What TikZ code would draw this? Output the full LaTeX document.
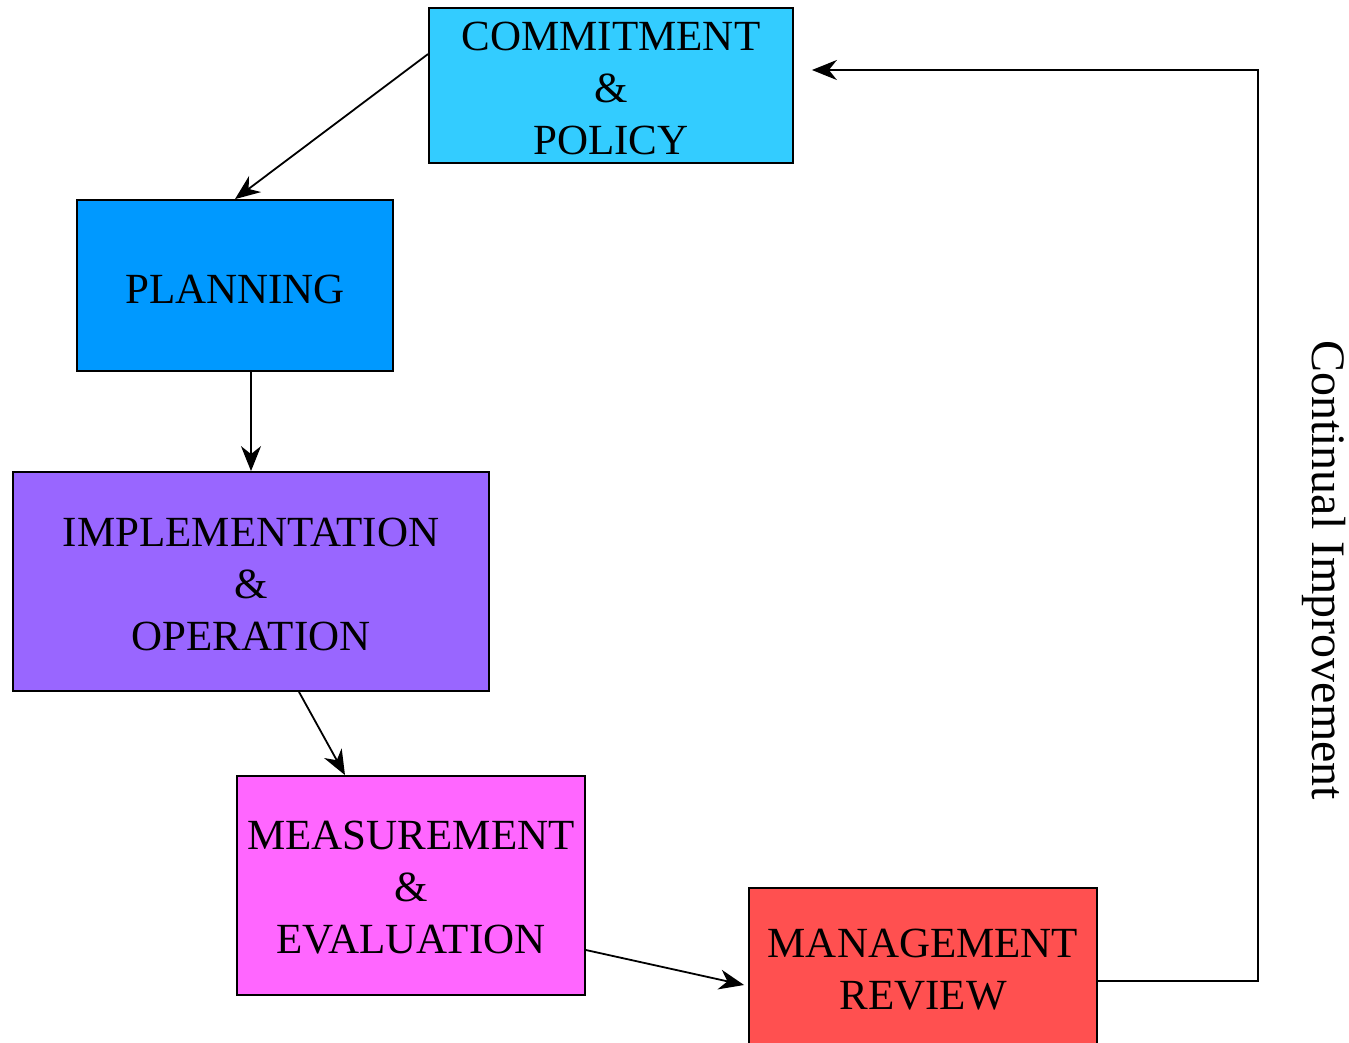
\documentclass[tikz,border=0pt]{standalone}
\usepackage{fontspec}
\setmainfont{Liberation Serif}
\usetikzlibrary{arrows.meta}
\definecolor{cCommit}{HTML}{33CCFF}
\definecolor{cPlan}{HTML}{0099FF}
\definecolor{cImpl}{HTML}{9966FF}
\definecolor{cMeas}{HTML}{FF66FF}
\definecolor{cMgmt}{HTML}{FF5050}
\begin{document}
\begin{tikzpicture}[x=1pt,y=-1pt,
  box/.style={draw=black, line width=1.8pt, rectangle, inner sep=0pt},
  txt/.style={inner sep=0pt, align=center, font=\fontsize{43}{52}\selectfont},
  conn/.style={line width=1.8pt, -{Stealth[length=25pt,width=20pt,inset=8pt]}}]
\useasboundingbox (0,0) rectangle (1349,1042);
\node[box, fill=cCommit, minimum width=364pt, minimum height=155pt] (commit) at (611,85.5) {};
\node[box, fill=cPlan, minimum width=316pt, minimum height=171pt] (plan) at (235,285.5) {};
\node[box, fill=cImpl, minimum width=476pt, minimum height=219pt] (impl) at (251,581.5) {};
\node[box, fill=cMeas, minimum width=348pt, minimum height=219pt] (meas) at (411,885.5) {};
\node[box, fill=cMgmt, minimum width=348pt, minimum height=170pt] (mgmt) at (923,973) {};
\node[txt] (tcommit) at ([yshift=-3pt]commit.center) {COMMITMENT\\\&\\POLICY};
\node[txt] (tplan) at ([yshift=-4pt]plan.center) {PLANNING};
\node[txt] (timpl) at ([yshift=-3pt]impl.center) {IMPLEMENTATION\\\&\\OPERATION};
\node[txt] (tmeas) at ([yshift=-2pt]meas.center) {MEASUREMENT\\\&\\EVALUATION};
\node[txt] (tmgmt) at ([yshift=3pt]mgmt.center) {MANAGEMENT\\REVIEW};
\node[font=\fontsize{48}{52}\selectfont, rotate=-90, inner sep=0pt] (label) at (1324,570) {Continual Improvement};
\coordinate (corner) at (1258,70);
\draw[conn] ([yshift=31.5pt]commit.west) -- (plan.north);
\draw[conn] (impl.north |- plan.south) -- (impl.north);
\draw[conn] ([xshift=48pt]impl.south) -- ([xshift=-66pt]meas.north);
\draw[conn] ([yshift=-64.5pt]meas.east) -- ([xshift=-4pt,yshift=-12pt]mgmt.west);
\draw[conn, line width=1.5pt] ([yshift=-8pt]mgmt.east) -| (corner) -- ([xshift=18pt,yshift=15.5pt]commit.east);
\end{tikzpicture}
\end{document}
